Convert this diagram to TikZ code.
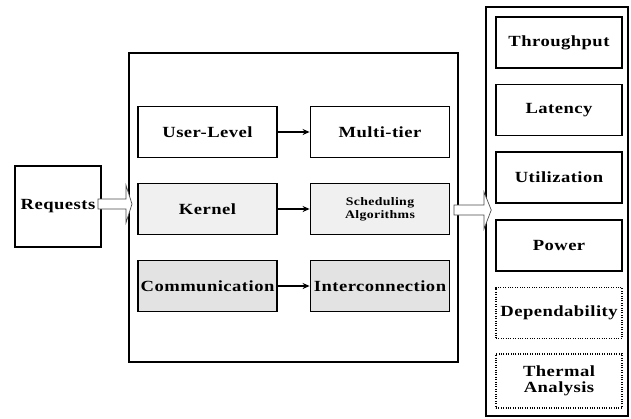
\documentclass[tikz,border=0pt]{standalone}
\usepackage{fontspec}
\setmainfont{Liberation Serif}[LetterSpace=3, FakeStretch=1.2]
\usetikzlibrary{arrows.meta,calc}

\tikzset{
  lbl/.style={font=\fontsize{15.5}{16}\selectfont\bfseries, align=center, inner sep=0pt},
  cell/.style={lbl, draw=black, line width=1.8pt, minimum width=139pt, minimum height=51pt},
  dots/.style={cell, fill=gray!12},
  hatch/.style={cell, fill=gray!22},
  metric/.style={lbl, draw=black, line width=1.6pt, minimum width=126pt, minimum height=51pt},
  soft/.style={metric, line width=1.3pt, dash pattern=on 1pt off 1.4pt},
  frame/.style={draw=black, line width=2pt, inner sep=0pt},
  link/.style={draw=black, line width=1.8pt, -{Stealth[length=7pt,width=6pt]}},
  fat/.style={draw=black!70, line width=0.7pt, fill=white}
}

\begin{document}
\begin{tikzpicture}[x=1pt, y=-1pt]
  \useasboundingbox (0,0) rectangle (631,418);

  % input
  \node[lbl, draw=black, line width=1.8pt, minimum width=86pt, minimum height=81pt] (req) at (58,206.5) {Requests};

  % system levels
  \node[frame, minimum width=329pt, minimum height=309pt] (main) at (293.5,207) {};
  \node[cell]  (ul) at (207.5,132) {User-Level};
  \node[cell]  (mt) at (380,132)   {Multi-tier};
  \node[dots]  (kr) at (207.5,209)   {Kernel};
  \node[dots, font=\fontsize{11.5}{13}\selectfont\bfseries] (sa) at (380,209) {Scheduling\\Algorithms};
  \node[hatch] (cm) at (207.5,286)   {Communication};
  \node[hatch] (ic) at (380,286)     {Interconnection};

  \draw[link] (ul) -- (mt);
  \draw[link] (kr) -- (sa);
  \draw[link] (cm) -- (ic);

  % metrics
  \node[frame, line width=1.5pt, minimum width=142pt, minimum height=409pt] (panel) at (557,211.5) {};
  \node[metric] (tp) at (559,42.5)  {Throughput};
  \node[metric] (lt) at (559,110)   {Latency};
  \node[metric] (ut) at (559,177.5) {Utilization};
  \node[metric] (pw) at (559,245.5) {Power};
  \node[soft]   (dp) at (559,313)   {Dependability};
  \node[soft, minimum height=54pt] (th) at (559,381) {Thermal\\Analysis};

  % block arrows
  \coordinate (a1) at ($(req.east)+(-4,-2.5)$);
  \draw[fat] (a1) ++(0,-5) -- ++(28,0) -- ++(0,-14) -- ($(main.west)+(4,-3)$)
    -- ($(a1)+(28,19)$) -- ++(0,-14) -- ++(-28,0) -- cycle;
  \coordinate (a2) at ($(main.east)+(-5,3)$);
  \draw[fat] (a2) ++(0,-5) -- ++(30,0) -- ++(0,-13) -- ($(panel.west)+(6,-1.5)$)
    -- ($(a2)+(30,19)$) -- ++(0,-14) -- ++(-30,0) -- cycle;
\end{tikzpicture}
\end{document}
